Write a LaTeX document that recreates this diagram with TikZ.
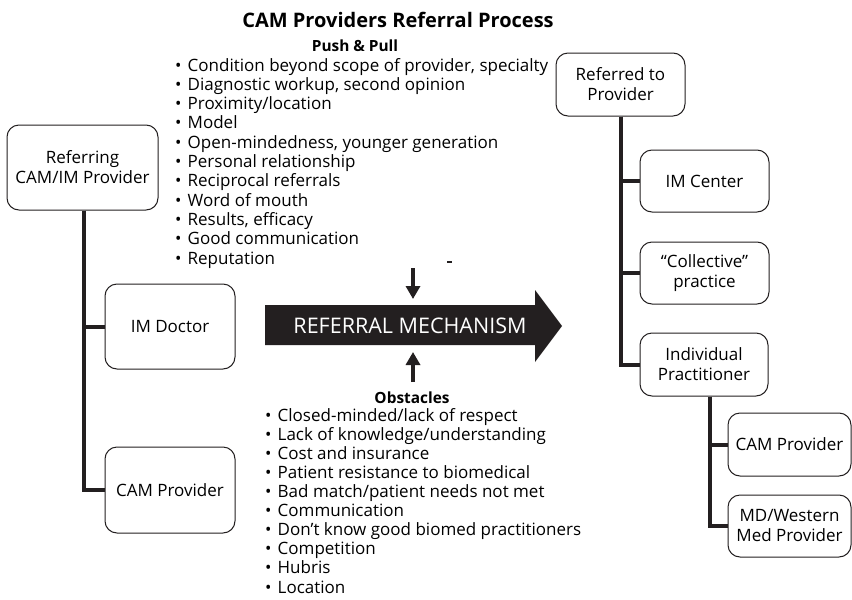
\documentclass[tikz,border=0pt]{standalone}
\usepackage{fontspec}
\setmainfont{Open Sans}
\usepackage{xcolor}
\definecolor{chart-ink}{HTML}{231F20}
\definecolor{chart-paper}{HTML}{FFFFFF}
\usetikzlibrary{arrows.meta}

\tikzset{
  box/.style={draw=chart-ink, line width=1pt, rounded corners=12pt, align=center,
    inner sep=0pt, font=\fontsize{17}{20}\selectfont},
  tree/.style={draw=chart-ink, line width=4pt},
  item/.style={anchor=base west, inner sep=0pt, font=\fontsize{17}{19}\selectfont},
  heading/.style={inner sep=0pt, font=\bfseries\fontsize{15.4}{18}\selectfont},
  nudge/.style={-{Triangle[length=13pt,width=14pt]}, line width=3.6pt, draw=chart-ink},
}
\newcommand{\bull}{\makebox[12.5pt][l]{•}}

\begin{document}
\begin{tikzpicture}[x=1pt, y=-1pt]

    % Page
    \useasboundingbox (0, 0) rectangle (852, 600);
    \fill[chart-paper] (0, 0) rectangle (852, 600);

    % Title
    \node[inner sep=0pt, font=\bfseries\fontsize{20}{24}\selectfont] (title) at (398, 20) {CAM Providers Referral Process};

    % Push and pull
    \node[heading] (pushhead) at (355, 46) {Push \& Pull};
    \foreach \txt [count=\i] in {{Condition beyond scope of provider, specialty},
        {Diagnostic workup, second opinion}, {Proximity/location}, {Model},
        {Open-mindedness, younger generation}, {Personal relationship},
        {Reciprocal referrals}, {Word of mouth}, {Results, efficacy},
        {Good communication}, {Reputation}}
      \node[item] (push\i) at (175, 51.7 + 19.3*\i) {\bull\txt};

    % Obstacles
    \node[heading] (obshead) at (412, 398) {Obstacles};
    \foreach \txt [count=\i] in {{Closed-minded/lack of respect},
        {Lack of knowledge/understanding}, {Cost and insurance},
        {Patient resistance to biomedical}, {Bad match/patient needs not met},
        {Communication}, {Don’t know good biomed practitioners},
        {Competition}, {Hubris}, {Location}}
      \node[item] (obs\i) at (265, 402 + 19.1*\i) {\bull\txt};

    % Mechanism arrow
    \fill[chart-ink] (265, 305) -- (535, 305) -- (535, 290) -- (562, 326)
      -- (535, 362) -- (535, 345) -- (265, 345) -- cycle;
    \node[inner sep=0pt, text=chart-paper, font=\fontsize{21.5}{24}\selectfont] (mech) at (410, 326) {REFERRAL MECHANISM};
    \coordinate (pushin) at (413, 268);
    \coordinate (pushat) at (413, 299);
    \coordinate (obsin) at (413, 382);
    \coordinate (obsat) at (413, 352);
    \draw[nudge] (pushin) -- (pushat);
    \draw[nudge] (obsin) -- (obsat);
    \fill[chart-ink] (447, 261) rectangle (452, 263);

    % Referring side
    \node[box, minimum width=151pt, minimum height=85pt] (referring) at (82.5, 167.5) {Referring\\CAM/IM Provider};
    \node[box, minimum width=130pt, minimum height=85pt] (imdoctor) at (170, 326.5) {IM Doctor};
    \node[box, minimum width=130pt, minimum height=86pt] (camleft) at (170, 490) {CAM Provider};
    \draw[tree] ([xshift=1.5pt]referring.south) |- (imdoctor.west);
    \draw[tree] ([xshift=1.5pt]referring.south) |- (camleft.west);

    % Referred side
    \node[box, minimum width=129pt, minimum height=63pt] (referred) at (620.5, 84.5) {Referred to\\Provider};
    \node[box, minimum width=129pt, minimum height=62pt] (imcenter) at (704.5, 181) {IM Center};
    \node[box, minimum width=129pt, minimum height=62pt] (collective) at (704.5, 273) {“Collective”\\practice};
    \node[box, minimum width=128pt, minimum height=63pt] (individual) at (704, 364.5) {Individual\\Practitioner};
    \node[box, minimum width=123pt, minimum height=63pt] (camright) at (789.5, 444.5) {CAM Provider};
    \node[box, minimum width=123pt, minimum height=62pt] (mdwestern) at (789.5, 526) {MD/Western\\Med Provider};
    \draw[tree] (referred.south) |- (imcenter.west);
    \draw[tree] (referred.south) |- (collective.west);
    \draw[tree] (referred.south) |- (individual.west);
    \draw[tree] ([xshift=6pt]individual.south) |- (camright.west);
    \draw[tree] ([xshift=6pt]individual.south) |- (mdwestern.west);

\end{tikzpicture}
\end{document}
